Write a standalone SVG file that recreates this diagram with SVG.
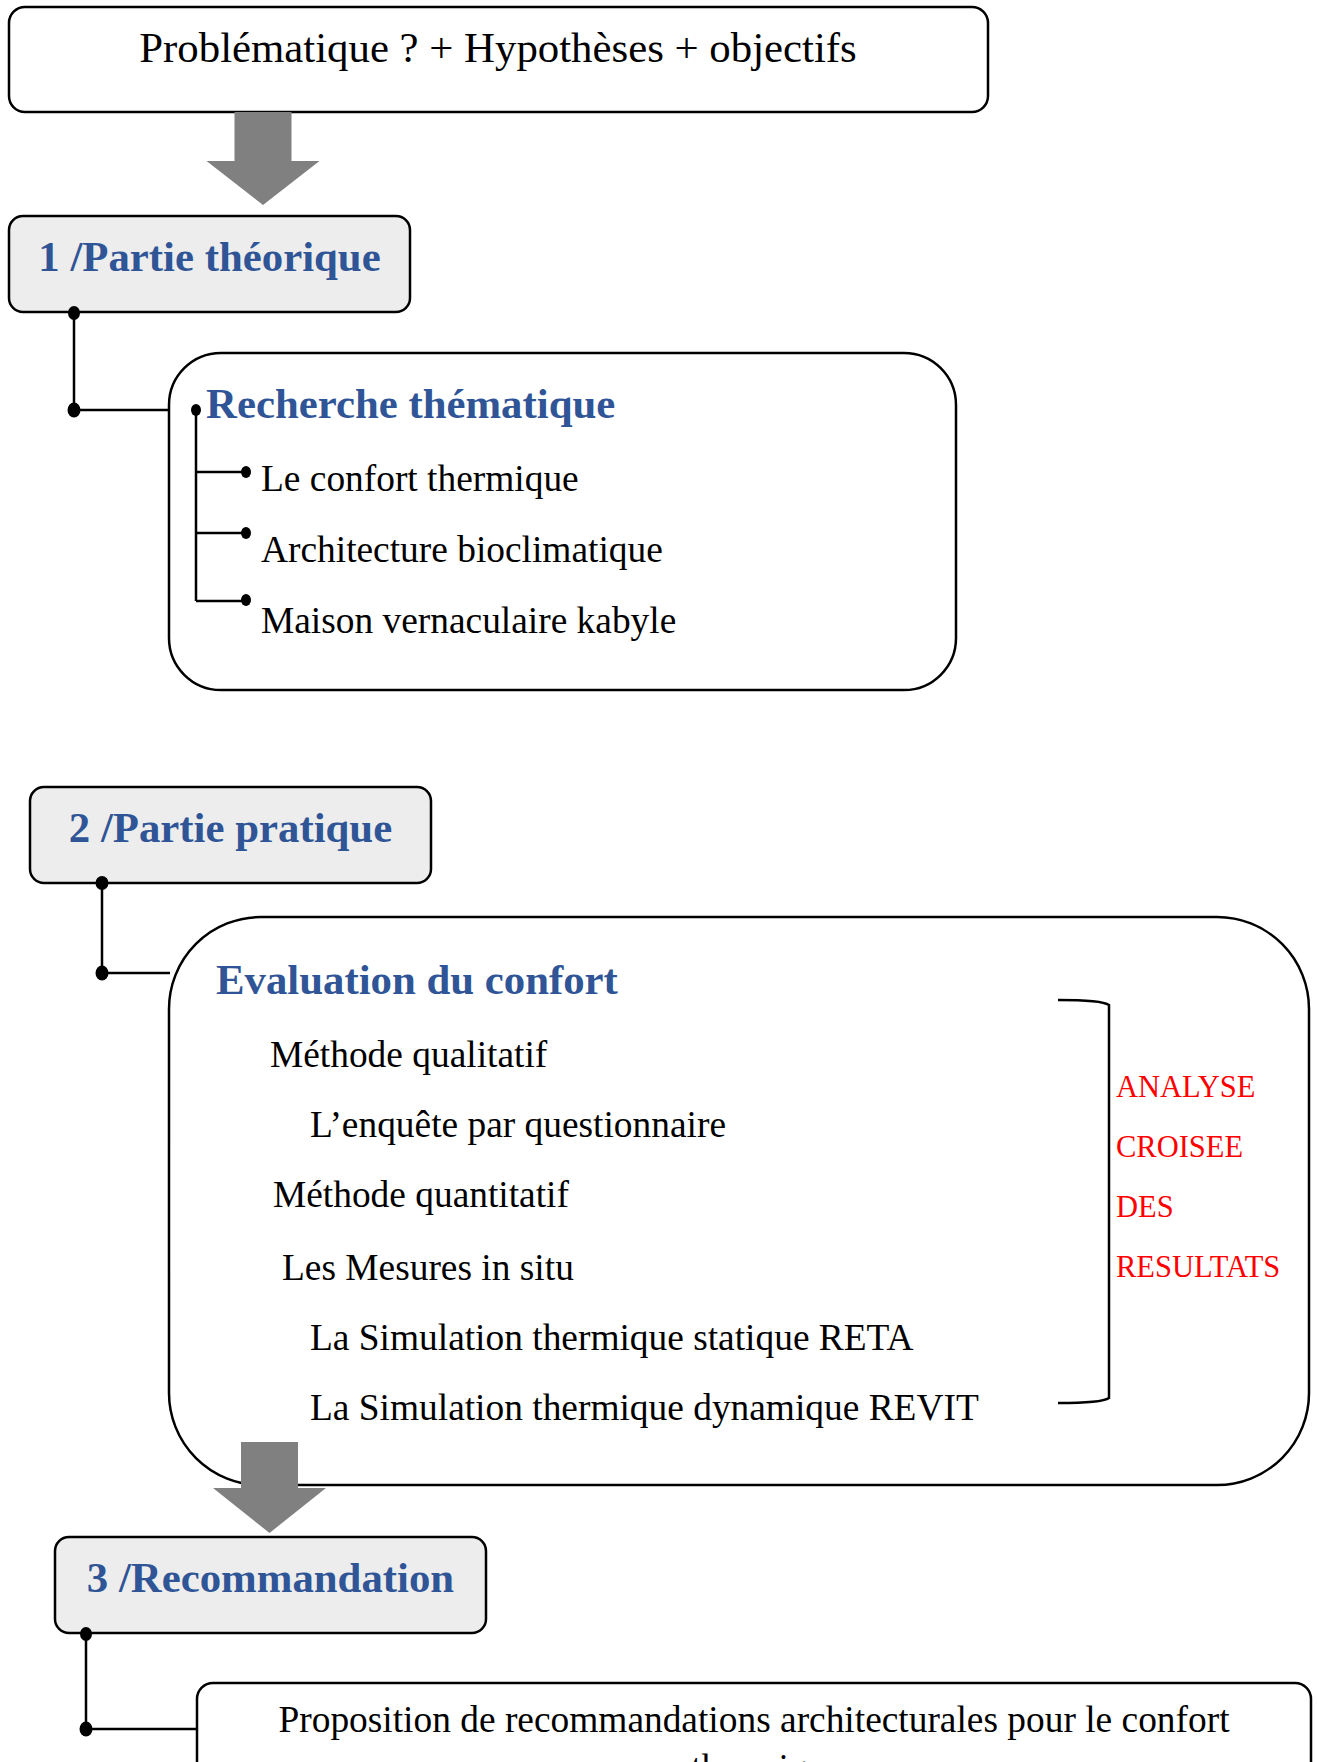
<svg xmlns="http://www.w3.org/2000/svg" width="1317" height="1762" viewBox="0 0 1317 1762">
<style>
.box{fill:#ffffff;stroke:#000;stroke-width:2.5}
.hbox{fill:#ededed;stroke:#000;stroke-width:2.5}
.t{font-family:"Liberation Serif","Times New Roman",serif;font-size:37.4px;fill:#000}
.top{font-family:"Liberation Serif","Times New Roman",serif;font-size:42.8px;fill:#000}
.h{font-family:"Liberation Serif","Times New Roman",serif;font-size:42.8px;font-weight:bold;fill:#2f5597}
.red{font-family:"Liberation Serif","Times New Roman",serif;font-size:30.5px;fill:#ff0000}
.ln{fill:none;stroke:#000;stroke-width:2.5}
.dot{fill:#000}
.arrow{fill:#808080}
</style>
<rect width="1317" height="1762" fill="#fff"/>

<g id="n-problematique">
<rect class="box" x="9" y="7" width="979" height="105" rx="16"/>
<text class="top" x="498" y="62" text-anchor="middle">Problématique ? + Hypothèses + objectifs</text>
</g>

<g id="n-theorique">
<rect class="hbox" x="9" y="216" width="401" height="96" rx="14"/>
<text class="h" x="209.5" y="271" text-anchor="middle">1 /Partie théorique</text>
</g>

<g id="n-recherche">
<rect class="box" x="169" y="353" width="787" height="337" rx="52"/>
<text class="h" x="206" y="418">Recherche thématique</text>
<text class="t" x="261" y="491">Le confort thermique</text>
<text class="t" x="261" y="562">Architecture bioclimatique</text>
<text class="t" x="261" y="633">Maison vernaculaire kabyle</text>
</g>

<g id="n-pratique">
<rect class="hbox" x="30" y="787" width="401" height="96" rx="14"/>
<text class="h" x="230.5" y="842" text-anchor="middle">2 /Partie pratique</text>
</g>

<g id="n-evaluation">
<rect class="box" x="169" y="917" width="1140" height="568" rx="92"/>
<text class="h" x="216" y="994">Evaluation du confort</text>
<text class="t" x="270" y="1067">Méthode qualitatif</text>
<text class="t" x="310" y="1137">L’enquête par questionnaire</text>
<text class="t" x="273" y="1207">Méthode quantitatif</text>
<text class="t" x="282" y="1280">Les Mesures in situ</text>
<text class="t" x="310" y="1350">La Simulation thermique statique RETA</text>
<text class="t" x="310" y="1420">La Simulation thermique dynamique REVIT</text>
<path class="ln" d="M1058,1000 Q1102,1000 1109,1005 L1109,1398 Q1102,1403 1058,1403"/>
<text class="red" x="1116" y="1097">ANALYSE</text>
<text class="red" x="1116" y="1157">CROISEE</text>
<text class="red" x="1116" y="1217">DES</text>
<text class="red" x="1116" y="1277">RESULTATS</text>
</g>

<g id="n-recommandation">
<rect class="hbox" x="55" y="1537" width="431" height="96" rx="14"/>
<text class="h" x="270.5" y="1592" text-anchor="middle">3 /Recommandation</text>
</g>

<g id="n-proposition">
<rect class="box" x="197" y="1683" width="1114" height="150" rx="16"/>
<text class="t" x="754" y="1732" text-anchor="middle">Proposition de recommandations architecturales pour le confort</text>
<text class="t" x="767" y="1780" text-anchor="middle">thermique</text>
</g>

<g id="connectors">
<path class="arrow" d="M234.5,112 H291.5 V161 H319.5 L263,205 L206.5,161 H234.5 Z"/>
<path class="arrow" d="M241,1442 H298 V1488 H326 L269.5,1533 L213,1488 H241 Z"/>

<path class="ln" d="M74,312 V410 H169"/>
<ellipse class="dot" cx="74" cy="313" rx="6" ry="7"/>
<ellipse class="dot" cx="74" cy="410" rx="6.5" ry="7.5"/>

<path class="ln" d="M196,410 V601 M196,472 H245 M196,533 H245 M196,601 H245"/>
<ellipse class="dot" cx="196" cy="410" rx="5" ry="6"/>
<ellipse class="dot" cx="246" cy="472" rx="5" ry="6"/>
<ellipse class="dot" cx="246" cy="533" rx="5" ry="6"/>
<ellipse class="dot" cx="246" cy="600" rx="5" ry="6"/>

<path class="ln" d="M102,883 V973 H170"/>
<ellipse class="dot" cx="102" cy="883" rx="6.5" ry="7"/>
<ellipse class="dot" cx="102" cy="973" rx="6.5" ry="7.5"/>

<path class="ln" d="M86,1633 V1729 H197"/>
<ellipse class="dot" cx="86" cy="1634" rx="6" ry="7"/>
<ellipse class="dot" cx="86" cy="1729" rx="6.5" ry="7.5"/>
</g>
</svg>
